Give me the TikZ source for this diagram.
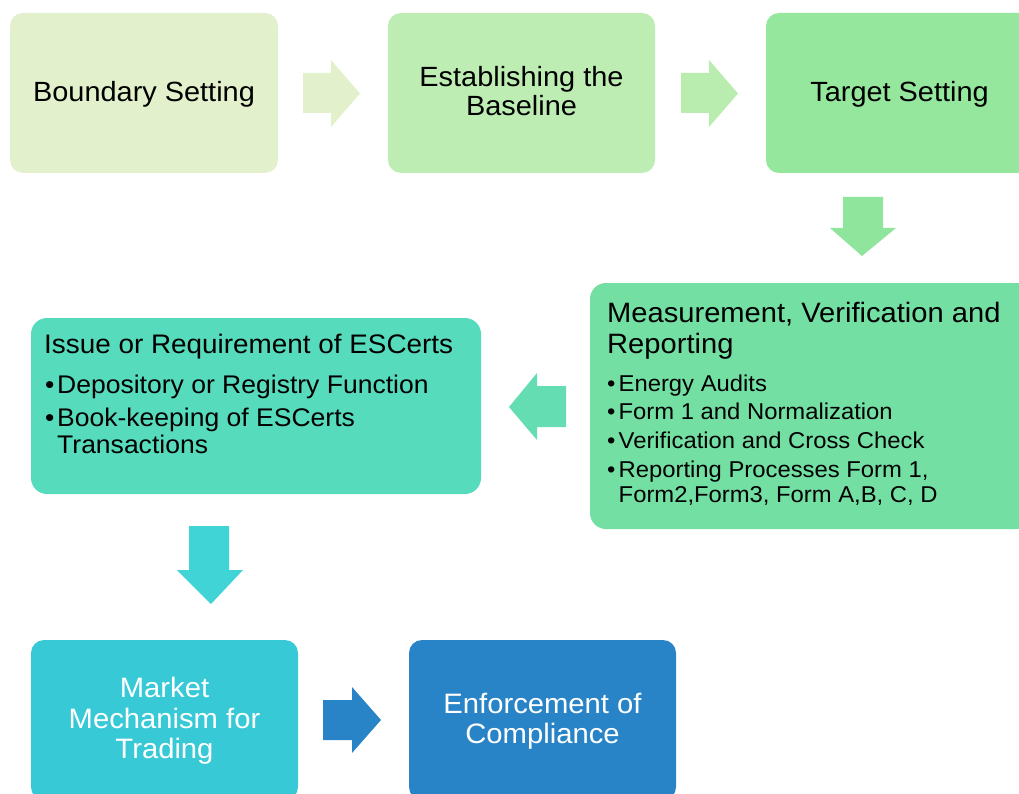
\documentclass[tikz,border=0pt]{standalone}
\usepackage{fontspec}
\setmainfont{Liberation Sans}[FakeStretch=1.04]
\definecolor{cBoundary}{RGB}{226,241,204}
\definecolor{cBaseline}{RGB}{190,237,180}
\definecolor{cTarget}{RGB}{148,231,156}
\definecolor{cMVR}{RGB}{115,223,163}
\definecolor{cIssue}{RGB}{87,219,189}
\definecolor{cMarket}{RGB}{56,201,215}
\definecolor{cEnforce}{RGB}{40,132,199}
\definecolor{aBaseline}{RGB}{185,236,175}
\definecolor{aTarget}{RGB}{143,229,155}
\definecolor{aMVR}{RGB}{99,221,177}
\definecolor{aIssue}{RGB}{64,212,214}
\tikzset{
  box/.style={rectangle, rounded corners=13pt, inner sep=0pt, draw=none},
  line/.style={inner sep=0pt, text=black},
  big/.style={line, font=\fontsize{27.8}{30}\selectfont},
  bigw/.style={big, text=white, font=\fontsize{28.1}{30}\selectfont},
  mtitle/.style={line, anchor=base west, font=\fontsize{28}{30}\selectfont},
  mitem/.style={line, anchor=base west, font=\fontsize{22.9}{24}\selectfont},
  ititle/.style={line, anchor=base west, font=\fontsize{26.8}{30}\selectfont},
  iitem/.style={line, anchor=base west, font=\fontsize{25.5}{27}\selectfont},
}
\newcommand{\mbul}{\makebox[11.5pt][l]{\textbullet}}
\newcommand{\ibul}{\makebox[12pt][l]{\textbullet}}
\begin{document}
\begin{tikzpicture}[x=1pt,y=-1pt]
\useasboundingbox (0,0) rectangle (1019,794);
\clip (0,0) rectangle (1019,794);

% process boxes
\node[box, fill=cBoundary, minimum width=268pt, minimum height=160pt] (b1) at (144,93) {};
\node[box, fill=cBaseline, minimum width=267pt, minimum height=160pt] (b2) at (521.5,93) {};
\node[box, fill=cTarget,   minimum width=267pt, minimum height=160pt] (b3) at (899.5,93) {};
\node[box, fill=cMVR,      minimum width=443pt, minimum height=246pt, rounded corners=16pt] (b4) at (811.5,406) {};
\node[box, fill=cIssue,    minimum width=450pt, minimum height=176pt, rounded corners=16pt] (b5) at (256,406) {};
\node[box, fill=cMarket,   minimum width=267pt, minimum height=160pt] (b6) at (164.5,720) {};
\node[box, fill=cEnforce,  minimum width=267pt, minimum height=160pt] (b7) at (542.5,720) {};

% block arrows between the steps
\fill[cBoundary] (303,73) -- (331,73) -- (331,60) -- (360,93.5) -- (331,127) -- (331,113) -- (303,113) -- cycle;
\fill[aBaseline] (681,73) -- (709,73) -- (709,60) -- (738,93.5) -- (709,127) -- (709,113) -- (681,113) -- cycle;
\fill[aTarget] (843,197) -- (883,197) -- (883,228) -- (896,228) -- (862,256) -- (830,228) -- (843,228) -- cycle;
\fill[aMVR] (566,386) -- (537,386) -- (537,373) -- (509,407) -- (537,440) -- (537,427) -- (566,427) -- cycle;
\fill[aIssue] (189,526) -- (229,526) -- (229,570) -- (243,570) -- (211,604) -- (177,570) -- (189,570) -- cycle;
\fill[cEnforce] (323,700) -- (352,700) -- (352,687) -- (381,720) -- (352,753) -- (352,740) -- (323,740) -- cycle;

% labels of the top row
\node[big, anchor=base] (t1) at (144,102) {Boundary Setting};
\node[big, anchor=base] (t2a) at (521.5,87) {Establishing the};
\node[big, anchor=base] (t2b) at (521.5,116) {Baseline};
\node[big, anchor=base] (t3) at (899.5,102) {Target Setting};

% measurement, verification and reporting
\node[mtitle] (m1) at (607,322) {Measurement, Verification and};
\node[mtitle] (m2) at (607,353) {Reporting};
\node[mitem] (m3) at (607,391) {\mbul Energy Audits};
\node[mitem] (m4) at (607,419) {\mbul Form 1 and Normalization};
\node[mitem] (m5) at (607,448) {\mbul Verification and Cross Check};
\node[mitem] (m6) at (607,477) {\mbul Reporting Processes Form 1,};
\node[mitem] (m7) at (618.5,502) {Form2,Form3, Form A,B, C, D};

% issue of ESCerts
\node[ititle] (i1) at (44,353) {Issue or Requirement of ESCerts};
\node[iitem] (i2) at (45,393) {\ibul Depository or Registry Function};
\node[iitem] (i3) at (45,426) {\ibul Book-keeping of ESCerts};
\node[iitem] (i4) at (57,453) {Transactions};

% bottom row
\node[bigw, anchor=base] (k1) at (164.5,697) {Market};
\node[bigw, anchor=base] (k2) at (164.5,728) {Mechanism for};
\node[bigw, anchor=base] (k3) at (164.5,758) {Trading};
\node[bigw, anchor=base] (e1) at (542.5,713) {Enforcement of};
\node[bigw, anchor=base] (e2) at (542.5,743) {Compliance};
\end{tikzpicture}
\end{document}
